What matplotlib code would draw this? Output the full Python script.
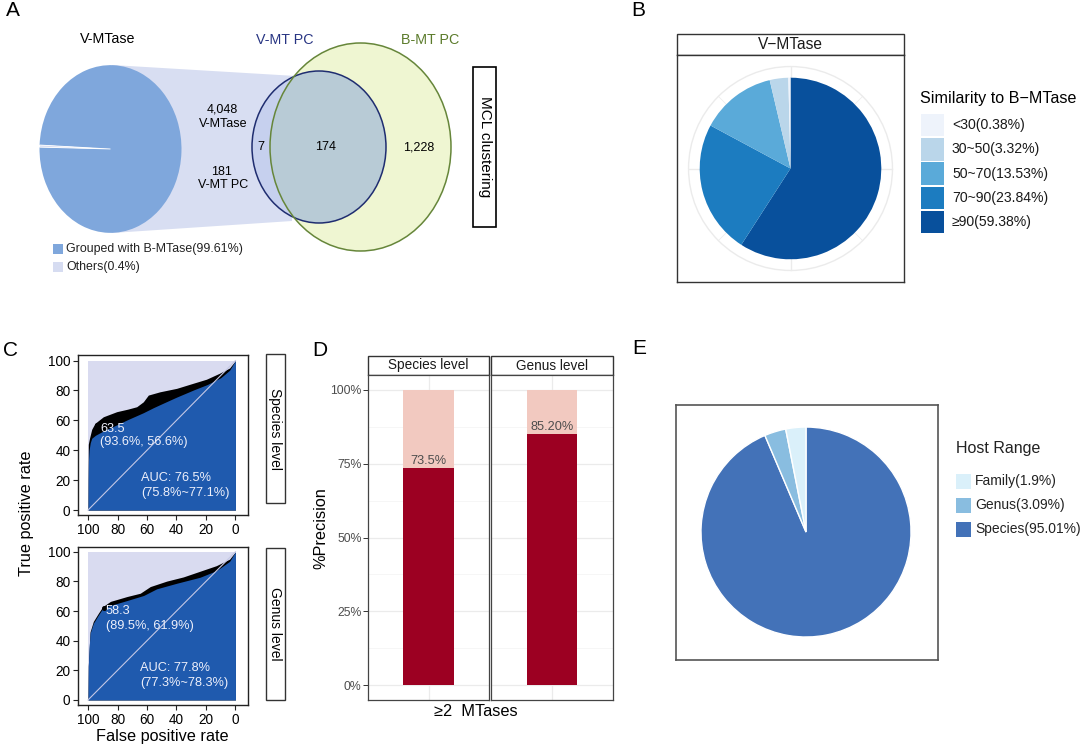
import numpy as np
import matplotlib
matplotlib.use('Agg')
import matplotlib.pyplot as plt
from matplotlib.patches import Ellipse, Rectangle, Polygon, Circle

plt.rcParams['font.family'] = ['Liberation Sans', 'DejaVu Sans']

W, H = 1080, 747

# ---------------- data ----------------
# Panel A
pieA_labels = ['Grouped with B-MTase(99.61%)', 'Others(0.4%)']
pieA_values = [99.61, 0.4]
pieA_colors = ['#7fa7dc', '#d6dcf1']
venn_labels = ['7', '174', '1,228']
vmtase_total = '4,048'
vmtpc_total = '181'

# Panel B
simB_labels = ['<30(0.38%)', '30~50(3.32%)', '50~70(13.53%)', '70~90(23.84%)', '\u226590(59.38%)']
simB_values = [0.38, 3.32, 13.53, 23.84, 59.38]
simB_colors = ['#eef3fb', '#bad6ea', '#5aaad9', '#1c7cc0', '#08509c']

# Panel C  (x = specificity %, y = sensitivity %)
sp_spec = [100, 99.9, 99.7, 99.3, 98.5, 97.5, 95, 89.6, 80.5, 73.5, 62.5, 55.6, 51.2, 40, 28, 19, 10, 4, 0]
sp_sens = [0, 20, 33, 40, 45, 48, 50, 52.9, 57, 60.3, 65.1, 68.5, 70.5, 75.5, 80.5, 84, 88.5, 93.5, 100]
sp_spec_hi = [100, 99.8, 99, 97.5, 95.3, 89.6, 80.5, 73, 67, 62.5, 59.1, 51.2, 39.9, 28.7, 19.7, 10.8, 4, 0]
sp_sens_hi = [0, 44, 48, 54, 58, 62.4, 65.8, 67.5, 69.1, 72.4, 76.9, 79.1, 81.4, 84.8, 87.5, 91.5, 95, 100]
ge_spec = [100, 99.9, 99.8, 99.3, 98.6, 96.4, 93, 90, 84.8, 73.5, 62.3, 53.4, 40, 24, 13, 4, 0]
ge_sens = [0, 12, 22.5, 35, 45, 51.7, 57.3, 61.8, 63.8, 67.1, 70.5, 75, 78.7, 82.8, 87.2, 93.5, 100]
ge_spec_hi = [100, 99.8, 98.6, 96.4, 93, 90, 84.8, 73.5, 64.6, 57.8, 46.6, 35.4, 24.2, 13, 4, 0]
ge_sens_hi = [0, 23, 46, 53, 58.5, 63, 66.5, 69.8, 72, 76.5, 80.2, 83, 86.8, 90.6, 95, 100]
thr_values = ['63.5', '58.3']
thr_points = [(93.6, 56.6), (89.5, 61.9)]
auc_labels = ['AUC: 76.5%', 'AUC: 77.8%']
auc_ci = ['(75.8%~77.1%)', '(77.3%~78.3%)']
roc_levels = ['Species level', 'Genus level']

# Panel D
d_levels = ['Species level', 'Genus level']
d_precision = [0.735, 0.852]
d_labels = ['73.5%', '85.20%']

# Panel E (slice shares as drawn in the picture; legend text as printed)
host_labels = ['Family(1.9%)', 'Genus(3.09%)', 'Species(95.01%)']
host_share = [3.1, 3.3, 93.6]
host_colors = ['#daf0fa', '#89bde0', '#4372b8']

# ---------------- figure ----------------
fig = plt.figure(figsize=(W / 100, H / 100), dpi=100)


def px_axes(x0, y0, x1, y1):
    return fig.add_axes([x0 / W, 1 - y1 / H, (x1 - x0) / W, (y1 - y0) / H])


bg = fig.add_axes([0, 0, 1, 1])
bg.set_xlim(0, W)
bg.set_ylim(H, 0)
bg.axis('off')

for lab, x, y in [('A', 6, 11), ('B', 631, 10), ('C', 3, 350), ('D', 312, 350), ('E', 632, 348)]:
    bg.text(x, y, lab, fontsize=15, ha='left', va='center')

# ---------- Panel A ----------
bg.add_patch(Polygon([(112, 65), (296, 76), (292, 221), (112, 233)], closed=True,
                     fc='#d8def2', ec='none', zorder=1))
e_v = Ellipse((319, 147), 134, 152, fc='#c6d0ee', ec='none', zorder=2)
bg.add_patch(e_v)
e_b = Ellipse((360.5, 147), 181, 208, fc='#eff6d2', ec='none', zorder=3)
bg.add_patch(e_b)
e_int = Ellipse((319, 147), 134, 152, fc='#b8cbd6', ec='none', zorder=4)
bg.add_patch(e_int)
e_int.set_clip_path(e_b)
bg.add_patch(Ellipse((319, 147), 134, 152, fill=False, ec='#1f2d70', lw=1.1, zorder=5))
bg.add_patch(Ellipse((360.5, 147), 181, 208, fill=False, ec='#66863a', lw=1.1, zorder=5))

bg.text(108, 39, 'V-MTase', fontsize=10.3, ha='center', va='center')
bg.text(285, 40, 'V-MT PC', fontsize=10.3, ha='center', va='center', color='#283583')
bg.text(430, 40, 'B-MT PC', fontsize=10.3, ha='center', va='center', color='#5b7b2b')
bg.text(222, 110, vmtase_total, fontsize=9, ha='center', va='center', zorder=6)
bg.text(223, 124, 'V-MTase', fontsize=9, ha='center', va='center', zorder=6)
bg.text(221, 172, vmtpc_total, fontsize=9, ha='center', va='center', zorder=6)
bg.text(223, 185, 'V-MT PC', fontsize=9, ha='center', va='center', zorder=6)
for lab, x in zip(venn_labels, [261, 326, 419]):
    bg.text(x, 147, lab, fontsize=9, ha='center', va='center', zorder=6)

bg.add_patch(Rectangle((473, 67), 23, 160, fill=False, ec='black', lw=1.2))
bg.text(484.5, 147, 'MCL clustering', fontsize=11, rotation=270, ha='center', va='center')

for i, (lab, col) in enumerate(zip(pieA_labels, pieA_colors)):
    y0 = 244 + i * 18
    bg.add_patch(Rectangle((53, y0), 10, 10, fc=col, ec='none'))
    bg.text(66.5, y0 + 5, lab, fontsize=8.9, ha='left', va='center', color='#222222')

axA = px_axes(38.8, 64.3, 182.2, 233.7)
others_frac = pieA_values[1] / sum(pieA_values)
wA, _ = axA.pie(pieA_values, colors=pieA_colors, counterclock=True,
                startangle=178 - 360 * (1 - others_frac / 2), wedgeprops=dict(linewidth=0))
wA[1].set_edgecolor('white')
wA[1].set_linewidth(0.6)
axA.set_aspect('auto')
axA.set_xlim(-1.01, 1.01)
axA.set_ylim(-1.01, 1.01)
axA.set_facecolor('none')

# ---------- Panel B ----------
axB = px_axes(677, 55, 904, 282)
axB.add_patch(Circle((0, 0), 1.123, fill=False, ec='#ebebeb', lw=1.0, zorder=0))
for k in range(8):
    ang = np.deg2rad(90 - 45 * k)
    axB.plot([0, 1.123 * np.cos(ang)], [0, 1.123 * np.sin(ang)], color='#ebebeb',
             lw=1.0 if k % 2 == 0 else 0.5, zorder=0)
axB.pie(simB_values[::-1], colors=simB_colors[::-1], startangle=90, counterclock=False,
        radius=1.0, wedgeprops=dict(linewidth=0))
axB.set_aspect('auto')
axB.set_xlim(-1.25, 1.25)
axB.set_ylim(-1.25, 1.25)
axB.set_frame_on(True)
for sp in axB.spines.values():
    sp.set_color('#333333')
    sp.set_linewidth(1.0)
axB.set_xticks([])
axB.set_yticks([])

bg.add_patch(Rectangle((677, 34), 227, 21, fc='white', ec='#333333', lw=1.0))
bg.text(790.5, 44.5, 'V\u2212MTase', fontsize=11.2, ha='center', va='center', color='#1a1a1a')

bg.text(920, 98, 'Similarity to B\u2212MTase', fontsize=11.6, ha='left', va='center')
for i, (lab, col) in enumerate(zip(simB_labels, simB_colors)):
    y0 = 114 + i * 24.2
    bg.add_patch(Rectangle((921, y0), 22.5, 22.3, fc=col, ec='none'))
    bg.text(952, y0 + 11.2, lab, fontsize=10.1, ha='left', va='center', color='#1a1a1a')

# ---------- Panel C ----------
roc_sets = [
    (sp_spec, sp_sens, sp_spec_hi, sp_sens_hi, (78, 355, 248, 515), (-3.3, 103.7),
     (91.9, 54.4, 45.2), (64.2, 21.2, 11.6), (265.5, 354, 19.5, 149)),
    (ge_spec, ge_sens, ge_spec_hi, ge_sens_hi, (78, 547, 248, 705), (-3.4, 103.2),
     (87.8, 60.0, 49.9), (64.5, 21.4, 11.3), (265.5, 548, 19.5, 152)),
]
for i, (spc, sns, spc_hi, sns_hi, box, ylim, thr_pos, auc_pos, strip) in enumerate(roc_sets):
    ax = px_axes(*box)
    ax.fill_between([100, 0], [0, 0], [100, 100], color='#d9dbf0', lw=0)
    ax.fill_between(spc_hi, 0, sns_hi, color='black', lw=0)
    ax.fill_between(spc, 0, sns, color='#1f5aae', lw=0)
    ax.plot([100, 0], [0, 100], color='#c4c8e6', lw=0.8)
    ax.plot([thr_points[i][0]], [thr_points[i][1]], 'o', ms=2.6, color='black')
    tc = '#eef0fb'
    ax.text(thr_pos[0], thr_pos[1], thr_values[i], fontsize=9.2, color=tc, ha='left', va='center')
    ax.text(thr_pos[0], thr_pos[2],
            '(%.1f%%, %.1f%%)' % thr_points[i], fontsize=9.2, color=tc, ha='left', va='center')
    ax.text(auc_pos[0], auc_pos[1], auc_labels[i], fontsize=9.2, color=tc, ha='left', va='center')
    ax.text(auc_pos[0], auc_pos[2], auc_ci[i], fontsize=9.2, color=tc, ha='left', va='center')
    ax.set_xlim(106.8, -8.5)
    ax.set_ylim(*ylim)
    ax.set_xticks([100, 80, 60, 40, 20, 0])
    ax.set_yticks([0, 20, 40, 60, 80, 100])
    ax.tick_params(direction='out', length=3.5, width=0.8, labelsize=9.8, pad=2, color='#222222')
    for sp in ax.spines.values():
        sp.set_linewidth(1.0)
        sp.set_color('#222222')
    bg.add_patch(Rectangle(strip[:2], strip[2], strip[3], fc='white', ec='#333333', lw=1.0))
    bg.text(strip[0] + strip[2] / 2, strip[1] + strip[3] / 2, roc_levels[i], fontsize=10,
            rotation=270, ha='center', va='center')

bg.text(27, 513, 'True positive rate', fontsize=11.7, rotation=90, ha='center', va='center')
bg.text(162.5, 737, 'False positive rate', fontsize=11.7, ha='center', va='center')

# ---------- Panel D ----------
d_boxes = [(368, 375, 489, 700), (491, 375, 613, 700)]
for i, (lvl, p, lab, box) in enumerate(zip(d_levels, d_precision, d_labels, d_boxes)):
    ax = px_axes(*box)
    ax.bar([1], [p], width=0.5, color='#9c0022', zorder=2)
    ax.bar([1], [1 - p], bottom=[p], width=0.5, color='#f2c9c0', zorder=2)
    ax.annotate(lab, (1, p), xytext=(0, 0.5), textcoords='offset points', ha='center',
                va='bottom', fontsize=9.2, color='#4d4d4d', zorder=3)
    ax.set_xlim(0.4, 1.6)
    ax.set_ylim(-0.05, 1.05)
    ax.set_yticks([0, 0.25, 0.5, 0.75, 1.0])
    ax.set_yticks([0.125, 0.375, 0.625, 0.875], minor=True)
    ax.set_xticks([1])
    ax.set_xticklabels([''])
    ax.grid(which='major', color='#ebebeb', lw=0.9, zorder=0)
    ax.grid(which='minor', axis='y', color='#f3f3f3', lw=0.5, zorder=0)
    ax.set_axisbelow(True)
    ax.tick_params(axis='x', length=0)
    ax.tick_params(axis='y', which='minor', length=0)
    if i == 0:
        ax.set_yticklabels(['0%', '25%', '50%', '75%', '100%'])
        ax.tick_params(axis='y', which='major', length=3.5, width=0.7, color='#333333',
                       labelsize=8.8, labelcolor='#4d4d4d', pad=1)
    else:
        ax.set_yticklabels([])
        ax.tick_params(axis='y', which='major', length=0)
    for sp in ax.spines.values():
        sp.set_color('#444444')
        sp.set_linewidth(0.9)
    bg.add_patch(Rectangle((box[0], 356), box[2] - box[0], 19, fc='white', ec='#333333', lw=1.0))
    bg.text((box[0] + box[2]) / 2, 365.5, lvl, fontsize=9.8, ha='center', va='center',
            color='#1a1a1a')

bg.text(475.5, 711.5, '\u22652  MTases', fontsize=11.8, ha='center', va='center')
bg.text(320.5, 528.5, '%Precision', fontsize=11.7, rotation=90, ha='center', va='center')

# ---------- Panel E ----------
axE = px_axes(676, 405, 938, 660)
axE.pie(host_share[::-1], colors=host_colors[::-1], startangle=90, counterclock=False,
        wedgeprops=dict(edgecolor='white', linewidth=1.0))
axE.set_aspect('auto')
axE.set_xlim(-1.238, 1.257)
axE.set_ylim(-1.219, 1.21)
axE.set_frame_on(True)
for sp in axE.spines.values():
    sp.set_color('#555555')
    sp.set_linewidth(1.2)
axE.set_xticks([])
axE.set_yticks([])

bg.text(956, 448, 'Host Range', fontsize=11.5, ha='left', va='center', color='#222222')
for i, (lab, col) in enumerate(zip(host_labels, host_colors)):
    y0 = 474 + i * 24
    bg.add_patch(Rectangle((956, y0), 15, 15, fc=col, ec='none'))
    bg.text(975, y0 + 7.5, lab, fontsize=10, ha='left', va='center', color='#222222')

fig.savefig('out.png', dpi=100)
